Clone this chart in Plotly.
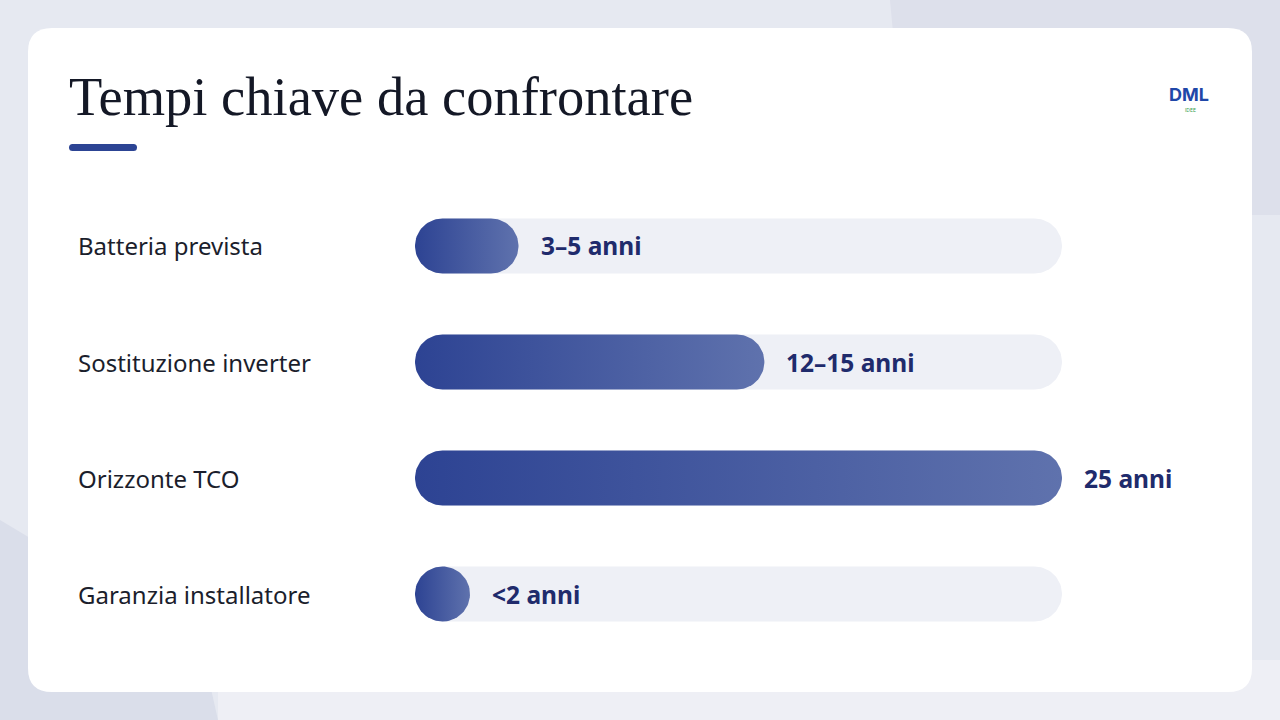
import numpy as np
import plotly.graph_objects as go

categories = ["Batteria prevista", "Sostituzione inverter", "Orizzonte TCO", "Garanzia installatore"]
values = [4, 13.5, 25, 2]
value_labels = ["3–5 anni", "12–15 anni", "25 anni", "<2 anni"]
x_max = 25

W, H = 1280, 720
X0_PX, X1_PX = 415, 1062          # track span in pixels
XR_PX = 1240                      # right edge of x axis domain
ROW_TOP_PX, ROW_PX = 188, 116     # plot area top / row pitch
BAR_PX = 55

n = len(categories)
px_per_x = (X1_PX - X0_PX) / x_max
px_per_y = ROW_PX
rx = (BAR_PX / 2) / px_per_x
ry = (BAR_PX / 2) / px_per_y


def capsule(x_end, yc):
    x_end = max(x_end, 2 * rx)
    t1 = np.linspace(np.pi / 2, 3 * np.pi / 2, 40)
    t2 = np.linspace(-np.pi / 2, np.pi / 2, 40)
    lx = rx + rx * np.cos(t1)
    ly = yc + ry * np.sin(t1)
    rxs = (x_end - rx) + rx * np.cos(t2)
    rys = yc + ry * np.sin(t2)
    xs = np.concatenate([lx, rxs, lx[:1]])
    ys = np.concatenate([ly, rys, ly[:1]])
    return xs, ys


fig = go.Figure()

for i, v in enumerate(values):
    xs, ys = capsule(x_max, i)
    fig.add_trace(go.Scatter(x=xs, y=ys, fill="toself", fillcolor="#eef0f6",
                             line=dict(width=0), mode="lines", hoverinfo="skip",
                             showlegend=False))
for i, v in enumerate(values):
    xs, ys = capsule(v, i)
    fig.add_trace(go.Scatter(x=xs, y=ys, fill="toself",
                             fillgradient=dict(type="horizontal",
                                               colorscale=[[0, "#2d4393"], [1, "#5f72ad"]]),
                             line=dict(width=0), mode="lines", hoverinfo="skip",
                             showlegend=False))

# value labels
for i, (v, lab) in enumerate(zip(values, value_labels)):
    x_end = max(v, 2 * rx)
    fig.add_annotation(x=x_end + 20 / px_per_x, y=i, xref="x", yref="y", text=lab,
                       showarrow=False, xanchor="left", yanchor="middle",
                       font=dict(family="Noto Sans", size=24.5, color="#1f2b6c", weight="bold"))

# category labels
for i, c in enumerate(categories):
    fig.add_annotation(x=76 / W, y=i, xref="paper", yref="y", text=c,
                       showarrow=False, xanchor="left", yanchor="middle",
                       font=dict(family="Noto Sans", size=24, color="#1b1e2c"))

shapes = []
# background decoration
shapes.append(dict(type="path", xref="paper", yref="paper", layer="below",
                   path=f"M {890/W} 1 L 1 1 L 1 {1-215/H} L {910/W} {1-215/H} Z",
                   fillcolor="#dde0eb", line=dict(width=0)))
shapes.append(dict(type="path", xref="paper", yref="paper", layer="below",
                   path=f"M 0 {1-520/H} L {200/W} {1-640/H} L {218/W} 0 L 0 0 Z",
                   fillcolor="#dadeea", line=dict(width=0)))
shapes.append(dict(type="rect", xref="paper", yref="paper", layer="below",
                   x0=218 / W, x1=1, y0=0, y1=1 - 660 / H,
                   fillcolor="#eeeff5", line=dict(width=0)))


def rounded_rect(x0, y0, x1, y1, r):
    fx = lambda p: p / W
    fy = lambda p: 1 - p / H
    return (f"M {fx(x0+r)} {fy(y0)} L {fx(x1-r)} {fy(y0)} Q {fx(x1)} {fy(y0)} {fx(x1)} {fy(y0+r)} "
            f"L {fx(x1)} {fy(y1-r)} Q {fx(x1)} {fy(y1)} {fx(x1-r)} {fy(y1)} "
            f"L {fx(x0+r)} {fy(y1)} Q {fx(x0)} {fy(y1)} {fx(x0)} {fy(y1-r)} "
            f"L {fx(x0)} {fy(y0+r)} Q {fx(x0)} {fy(y0)} {fx(x0+r)} {fy(y0)} Z")


shapes.append(dict(type="path", xref="paper", yref="paper", layer="below",
                   path=rounded_rect(28, 28, 1252, 692, 24),
                   fillcolor="#ffffff", line=dict(width=0)))
# title underline
shapes.append(dict(type="path", xref="paper", yref="paper", layer="above",
                   path=rounded_rect(69, 144, 137, 151, 3.5),
                   fillcolor="#2c4494", line=dict(width=0)))

fig.add_annotation(x=67 / W, y=1 - 97 / H, xref="paper", yref="paper",
                   text="Tempi chiave da confrontare", showarrow=False,
                   xanchor="left", yanchor="middle",
                   font=dict(family="Liberation Serif", size=54.5, color="#141826"))
# logo
fig.add_annotation(x=1189 / W, y=1 - 95 / H, xref="paper", yref="paper",
                   text="<b>DML</b>", showarrow=False, xanchor="center", yanchor="middle",
                   font=dict(family="Inter", size=18, color="#1f47a8"))
fig.add_annotation(x=1190 / W, y=1 - 110 / H, xref="paper", yref="paper",
                   text="IDEE", showarrow=False, xanchor="center", yanchor="middle",
                   font=dict(family="Inter", size=5, color="#2f9a4a"))

y_bottom = ROW_TOP_PX + n * ROW_PX
fig.update_layout(
    width=W, height=H, margin=dict(l=0, r=0, t=0, b=0),
    paper_bgcolor="#e6e9f1", plot_bgcolor="rgba(0,0,0,0)",
    shapes=shapes,
    xaxis=dict(domain=[X0_PX / W, XR_PX / W],
               range=[0, x_max * (XR_PX - X0_PX) / (X1_PX - X0_PX)],
               visible=False, fixedrange=True),
    yaxis=dict(domain=[1 - y_bottom / H, 1 - ROW_TOP_PX / H], range=[n - 0.5, -0.5],
               visible=False, fixedrange=True),
)

fig.write_html("out.html", config={"displayModeBar": False},
               post_script="document.body.style.margin='0';document.body.style.overflow='hidden';")
